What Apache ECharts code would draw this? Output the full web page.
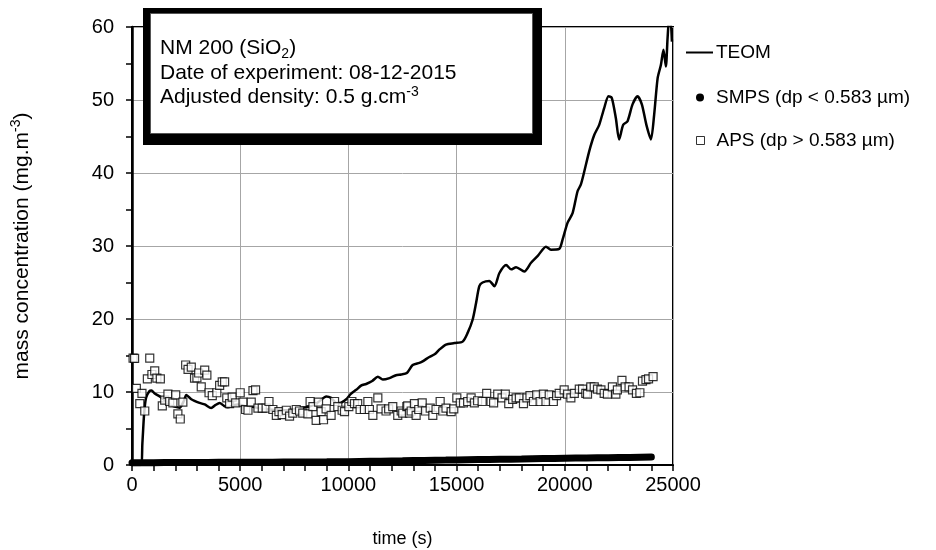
<!DOCTYPE html>
<html><head><meta charset="utf-8">
<script src="https://cdn.jsdelivr.net/npm/echarts@6/dist/echarts.min.js"></script>
<style>html,body{margin:0;padding:0;background:#fff}#c{width:936px;height:550px}</style>
</head><body><div id="c"></div>
<script>
// ---- data ----
const xTicks = [0, 5000, 10000, 15000, 20000, 25000];
const yTicks = [0, 10, 20, 30, 40, 50, 60];

const teomTime = [0,400,480,560,650,800,900,1050,1280,1510,1750,1970,2200,2400,2510,2740,3120,3360,3660,3850,4050,4250,4430,4700,4890,5200,5510,6000,6360,6800,7300,7740,8200,8600,8980,9200,9440,9600,9900,10100,10360,10600,10820,11100,11360,11590,11900,12200,12440,12700,12970,13280,13430,13740,14000,14200,14510,14900,15280,15510,15740,15900,16050,16200,16510,16750,16980,17290,17520,17750,18130,18440,18740,19130,19360,19740,19900,20130,20360,20590,20740,20900,21130,21360,21590,21820,22020,22170,22360,22510,22700,22900,23130,23360,23560,23770,23980,24130,24290,24440,24560,24670,24750,24820,24880,24950];
const teomValue = [0,0,3,7,9.2,10.1,10.2,9.8,9.4,8.9,8.3,8.0,7.85,8.8,9.6,9.0,8.5,8.3,7.8,8.2,8.5,8.1,7.9,8.2,8.3,8.1,8.0,7.7,7.6,7.5,7.5,7.8,8.0,8.6,9.4,9.2,8.5,8.5,9.0,9.7,10.3,10.9,11.1,11.5,12.1,11.7,11.9,12.3,12.4,12.6,13.7,14.0,14.2,14.8,15.2,15.8,16.5,16.7,16.9,18.1,19.9,22.2,24.5,25.0,25.2,24.5,26.3,27.4,26.8,27.1,26.5,27.7,28.6,29.9,29.5,29.6,30.9,33.2,34.5,37.5,38.4,40.2,43.0,45.2,46.6,48.9,50.5,50.3,47.5,44.6,46.6,47.1,49.4,50.5,49.4,46.6,44.6,48.0,53.0,54.8,56.9,54.6,58.5,61,61,58];

const smpsTime = [0,500,1000,1500,2000,2500,3000,3500,4000,4500,5000,5500,6000,6500,7000,7500,8000,8500,9000,9500,10000,10500,11000,11500,12000,12500,13000,13500,14000,14500,15000,15500,16000,16500,17000,17500,18000,18500,19000,19500,20000,20500,21000,21500,22000,22500,23000,23500,24000];
const smpsValue = [0.3,0.3,0.32,0.33,0.33,0.34,0.35,0.35,0.36,0.37,0.37,0.38,0.38,0.39,0.4,0.4,0.41,0.42,0.43,0.45,0.46,0.48,0.5,0.52,0.55,0.57,0.6,0.62,0.65,0.67,0.7,0.72,0.74,0.76,0.78,0.8,0.82,0.85,0.88,0.9,0.93,0.95,0.97,0.99,1.0,1.02,1.04,1.06,1.08];

const apsTime = [50,120,200,360,460,590,710,820,920,1050,1150,1310,1400,1510,1660,1740,1890,2020,2120,2230,2350,2480,2590,2740,2890,3000,3080,3200,3360,3460,3560,3710,3920,4050,4170,4280,4380,4510,4630,4790,5000,5130,5250,5360,5510,5590,5710,5820,6020,6200,6330,6510,6670,6790,6940,7130,7280,7430,7590,7740,7890,8130,8230,8360,8510,8620,8740,8850,8970,9200,9360,9510,9710,9820,10020,10160,10280,10430,10540,10740,10900,10970,11130,11360,11510,11740,11860,12050,12280,12440,12510,12700,12740,12820,12900,13050,13130,13250,13410,13560,13780,13900,14050,14240,14360,14510,14750,14870,15010,15170,15320,15510,15670,15820,15970,16180,16390,16590,16710,16900,17100,17250,17410,17590,17750,17900,18090,18250,18390,18550,18700,18860,19010,19130,19280,19470,19620,19740,19970,20130,20280,20440,20670,20820,20970,21050,21200,21360,21510,21670,21820,21970,22200,22360,22430,22640,22790,22970,23130,23310,23470,23590,23750,23870,24080];
const apsValue = [14.65,14.6,10.5,8.4,9.8,7.4,11.8,14.65,12.4,12.9,11.9,11.8,8.1,8.9,9.7,8.7,8.5,9.6,7.0,6.3,8.6,13.7,13.1,13.4,11.9,11.95,12.6,10.7,13.0,12.3,9.9,9.5,9.9,10.9,11.4,11.4,9.2,8.4,9.3,8.5,9.9,8.6,7.6,7.5,8.6,10.2,10.3,7.8,7.8,7.8,8.7,7.6,6.8,7.3,6.9,7.5,6.7,7.1,7.6,7.4,7.1,7.0,8.7,8.0,6.1,8.6,7.3,6.2,7.7,6.8,8.7,8.0,7.5,7.3,8.0,8.7,8.4,8.4,7.6,7.6,8.7,7.6,6.8,9.2,7.7,7.4,7.7,8.0,6.8,7.4,7.1,8.0,8.1,7.1,7.4,8.4,6.8,7.6,8.5,7.4,7.8,6.8,7.6,8.7,7.4,7.8,7.3,7.7,9.2,8.5,8.5,8.7,9.2,8.5,8.8,8.7,9.8,8.7,8.5,9.7,9.2,9.7,8.4,9.0,9.2,9.2,8.4,9.2,9.5,8.7,9.6,8.7,9.7,8.7,9.6,8.7,9.5,9.8,10.3,9.7,9.2,9.8,10.4,10.4,9.8,9.7,10.7,10.7,10.4,10.3,9.8,9.7,10.7,9.7,10.3,11.6,10.7,10.7,10.3,9.8,9.9,11.5,11.7,11.8,12.1];

const seriesNames = ['TEOM', 'SMPS (dp < 0.583 µm)', 'APS (dp > 0.583 µm)'];
const infoLines = ['NM 200 (SiO{sub|2})', 'Date of experiment: 08-12-2015', 'Adjusted density: 0.5 g.cm{sup|-3}'];

// ---- chart ----
const FONT = 'Liberation Sans, Arial, sans-serif';
const zip = (a, b) => a.map((v, i) => [v, b[i]]);
const chart = echarts.init(document.getElementById('c'), null, {renderer: 'canvas'});

const richText = {
  n: {fontSize: 21, fontFamily: FONT, color: '#000', lineHeight: 24.5},
  sub: {fontSize: 14, fontFamily: FONT, color: '#000', lineHeight: 14, verticalAlign: 'bottom'},
  sup: {fontSize: 14, fontFamily: FONT, color: '#000', lineHeight: 14, verticalAlign: 'top'}
};
function wrapRich(s) {
  return s.split(/(\{(?:sub|sup)\|[^}]*\})/).filter(p => p.length).map(p => p.startsWith('{') ? p : '{n|' + p + '}').join('');
}

const legendBase = {
  orient: 'vertical', padding: 0, textStyle: {fontSize: 19, fontFamily: FONT, color: '#000'},
  itemGap: 0, selectedMode: false
};

chart.setOption({
  animation: false,
  backgroundColor: '#fff',
  grid: {show: true, borderColor: '#000', borderWidth: 2, backgroundColor: 'transparent',
    left: 132, top: 27, width: 541, height: 438, outerBoundsMode: 'none', containLabel: false},
  legend: [
    Object.assign({}, legendBase, {left: 686, top: 43, itemWidth: 27, itemHeight: 14,
      textStyle: {fontSize: 19, fontFamily: FONT, color: '#000', padding: [0, 0, 0, -2]},
      data: [{name: seriesNames[0], icon: 'path://M0,6 L27,6 L27,8 L0,8 Z'}]}),
    Object.assign({}, legendBase, {left: 696, top: 88, itemWidth: 8, itemHeight: 8,
      textStyle: {fontSize: 19, fontFamily: FONT, color: '#000', padding: [0, 0, 0, 7]},
      data: [{name: seriesNames[1], icon: 'circle', itemStyle: {color: '#000'}}]}),
    Object.assign({}, legendBase, {left: 696, top: 131, itemWidth: 8, itemHeight: 8,
      textStyle: {fontSize: 19, fontFamily: FONT, color: '#000', padding: [0, 0, 0, 7]},
      data: [{name: seriesNames[2], icon: 'rect', itemStyle: {color: '#fff', borderColor: '#000', borderWidth: 1}}]})
  ],
  xAxis: {
    type: 'value', min: xTicks[0], max: xTicks[xTicks.length - 1], interval: 5000,
    name: 'time (s)', nameLocation: 'middle', nameGap: 65,
    nameTextStyle: {fontSize: 18, fontFamily: FONT, color: '#000'},
    axisLine: {show: true, lineStyle: {color: '#000', width: 2}},
    axisTick: {show: true, length: 6, lineStyle: {color: '#000', width: 1.5}},
    minorTick: {show: true, splitNumber: 5, length: 6, lineStyle: {color: '#000', width: 1.5}},
    axisLabel: {fontSize: 20, fontFamily: FONT, color: '#000', margin: 10, formatter: v => String(v)},
    splitLine: {show: true, lineStyle: {color: '#a6a6a6', width: 1}}
  },
  yAxis: {
    type: 'value', min: yTicks[0], max: yTicks[yTicks.length - 1], interval: 10,
    name: '{n|mass concentration (mg.m}{sup|-3}{n|)}', nameLocation: 'middle', nameGap: 97, nameRotate: 90,
    nameTextStyle: {rich: {
      n: {fontSize: 21, fontFamily: FONT, color: '#000', lineHeight: 26},
      sup: {fontSize: 14, fontFamily: FONT, color: '#000', lineHeight: 14, verticalAlign: 'top'}
    }},
    axisLine: {show: true, lineStyle: {color: '#000', width: 2.5}},
    axisTick: {show: true, length: 6, lineStyle: {color: '#000', width: 1.5}},
    minorTick: {show: true, splitNumber: 2, length: 6, lineStyle: {color: '#000', width: 1.5}},
    axisLabel: {fontSize: 20, fontFamily: FONT, color: '#000', margin: 18, formatter: v => String(v)},
    splitLine: {show: true, lineStyle: {color: '#a6a6a6', width: 1}}
  },
  series: [
    {
      name: seriesNames[0], type: 'line', data: zip(teomTime, teomValue),
      showSymbol: false, symbol: 'none', smooth: 0.25, clip: true,
      lineStyle: {color: '#000', width: 2.5}, itemStyle: {color: '#000'}, z: 3
    },
    {
      name: seriesNames[1], type: 'line', data: zip(smpsTime, smpsValue),
      showSymbol: false, symbol: 'none', clip: false,
      lineStyle: {color: '#000', width: 7, cap: 'round'}, itemStyle: {color: '#000'}, z: 4
    },
    {
      name: seriesNames[2], type: 'scatter', data: zip(apsTime, apsValue),
      symbol: 'rect', symbolSize: 8,
      itemStyle: {color: '#fff', borderColor: '#000', borderWidth: 1.2}, z: 5
    }
  ],
  graphic: [
    {type: 'rect', left: 143, top: 8, shape: {width: 399, height: 137}, style: {fill: '#000'}, z: 100},
    {type: 'rect', left: 150, top: 13, shape: {width: 382, height: 120}, style: {fill: '#fff', stroke: '#555', lineWidth: 1}, z: 101},
    {type: 'text', left: 160, top: 38, z: 102,
      style: {text: infoLines.map(wrapRich).join('\n'), rich: richText, fill: '#000'}}
  ]
});
</script>
</body></html>
